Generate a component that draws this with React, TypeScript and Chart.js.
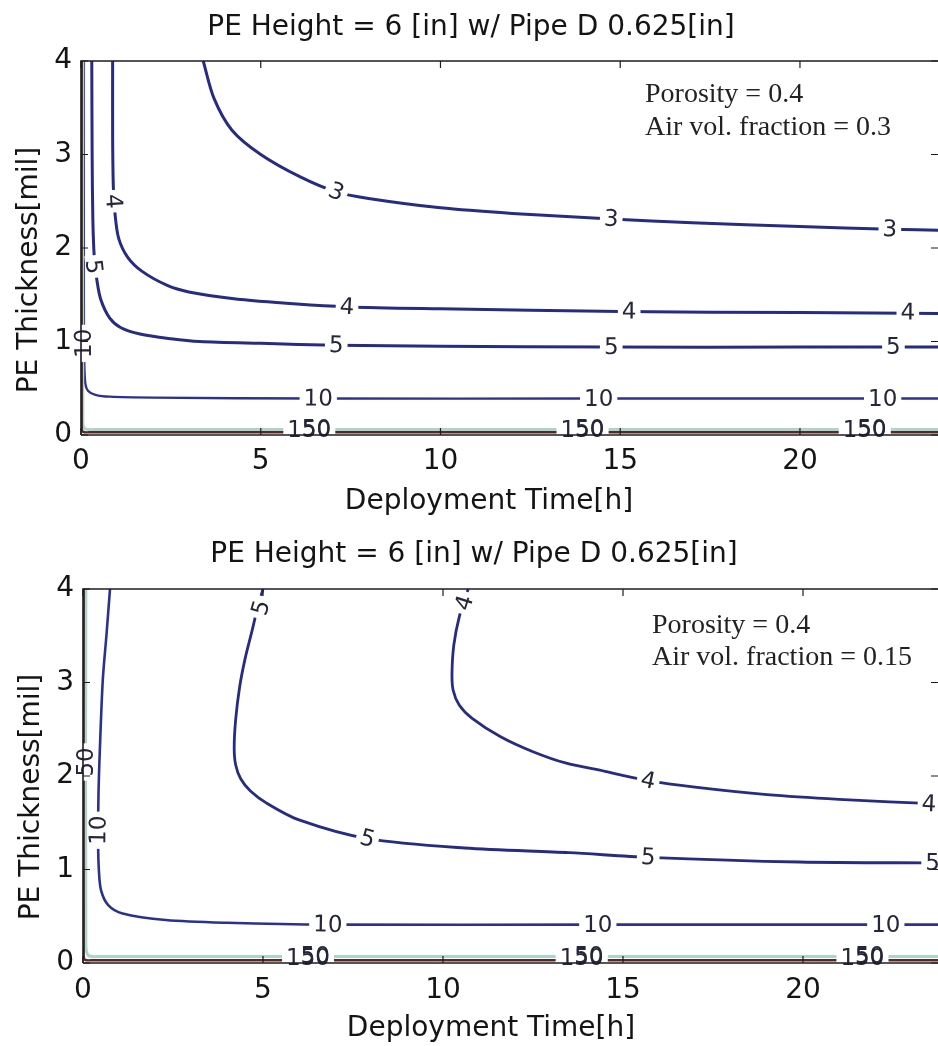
import React, { useEffect, useRef } from "react";
import { Chart, registerables } from "chart.js";
Chart.register(...registerables);

// ---------- shared text / ticks ----------
const X_TICKS = [0, 5, 10, 15, 20];
const Y_TICKS = [0, 1, 2, 3, 4];
const TITLE = "PE Height = 6 [in] w/ Pipe D 0.625[in]";
const X_TITLE = "Deployment Time[h]";
const Y_TITLE = "PE Thickness[mil]";
const TOP_NOTES = ["Porosity = 0.4", "Air vol. fraction = 0.3"];
const BOTTOM_NOTES = ["Porosity = 0.4", "Air vol. fraction = 0.15"];

// ---------- top plot (air vol. fraction 0.3) ----------
const TOP_C3_X = [3.4, 3.7, 4.2, 5.0, 6.1, 7.1, 8.0, 10.0, 12.0, 14.75, 17.0, 20.0, 22.5, 24.0];
const TOP_C3_Y = [4.0, 3.6, 3.26, 3.0, 2.76, 2.6, 2.53, 2.43, 2.37, 2.31, 2.27, 2.23, 2.2, 2.19];
const TOP_C3_LABELS = [[7.1, 2.6], [14.75, 2.31], [22.5, 2.2]];

const TOP_C4_X = [0.88, 0.88, 0.9, 0.95, 1.05, 1.3, 1.7, 2.4, 3.0, 4.2, 6.0, 7.4, 10.0, 15.0, 20.0, 24.0];
const TOP_C4_Y = [4.0, 3.2, 2.65, 2.35, 2.1, 1.9, 1.75, 1.6, 1.53, 1.46, 1.4, 1.37, 1.35, 1.32, 1.31, 1.3];
const TOP_C4_LABELS = [[0.9, 2.5], [7.4, 1.37], [15.25, 1.32], [23.0, 1.31]];

const TOP_C5_X = [0.3, 0.31, 0.33, 0.37, 0.44, 0.55, 0.8, 1.1, 1.64, 2.5, 3.3, 5.0, 7.1, 10.0, 14.75, 20.0, 24.0];
const TOP_C5_Y = [4.0, 3.0, 2.3, 1.9, 1.66, 1.45, 1.25, 1.15, 1.08, 1.03, 1.0, 0.98, 0.96, 0.95, 0.94, 0.94, 0.94];
const TOP_C5_LABELS = [[0.35, 1.8], [7.1, 0.96], [14.75, 0.94], [22.6, 0.94]];

const TOP_C10_X = [0.08, 0.08, 0.09, 0.12, 0.2, 0.4, 0.8, 2.0, 6.6, 14.4, 24.0];
const TOP_C10_Y = [4.0, 1.5, 0.8, 0.55, 0.47, 0.43, 0.41, 0.4, 0.39, 0.39, 0.39];
const TOP_C10_LABELS = [[0.08, 0.98], [6.6, 0.39], [14.4, 0.39], [22.3, 0.39]];

const TOP_C50_X = [0.05, 0.05, 0.1, 0.5, 24.0];
const TOP_C50_Y = [4.0, 0.2, 0.07, 0.06, 0.06];
const TOP_C50_LABELS = [[6.55, 0.06], [14.15, 0.06], [22.0, 0.06]];

const TOP_C150_X = [0.02, 0.02, 0.05, 0.3, 24.0];
const TOP_C150_Y = [4.0, 0.1, 0.035, 0.03, 0.03];
const TOP_C150_LABELS = [[6.35, 0.05], [13.95, 0.05], [21.8, 0.05]];

// ---------- bottom plot (air vol. fraction 0.15) ----------
const BOT_C4_X = [10.7, 10.45, 10.3, 10.25, 10.28, 10.45, 10.8, 11.6, 12.5, 13.4, 14.5, 15.7, 17.0, 19.0, 21.0, 23.8];
const BOT_C4_Y = [4.0, 3.7, 3.4, 3.1, 2.92, 2.76, 2.62, 2.42, 2.26, 2.14, 2.05, 1.95, 1.88, 1.8, 1.75, 1.7];
const BOT_C4_LABELS = [[10.6, 3.85], [15.7, 1.95], [23.5, 1.7]];

const BOT_C5_X = [5.0, 4.85, 4.7, 4.5, 4.35, 4.24, 4.2, 4.24, 4.38, 4.65, 5.1, 6.0, 7.9, 10.6, 13.5, 15.7, 19.9, 23.8];
const BOT_C5_Y = [4.0, 3.8, 3.56, 3.25, 2.95, 2.6, 2.3, 2.12, 1.97, 1.84, 1.71, 1.53, 1.33, 1.23, 1.18, 1.13, 1.08, 1.07];
const BOT_C5_LABELS = [[4.95, 3.8], [7.9, 1.33], [15.7, 1.13], [23.6, 1.07]];

const BOT_C10_X = [0.75, 0.65, 0.55, 0.47, 0.43, 0.42, 0.44, 0.5, 0.7, 1.1, 2.3, 4.0, 6.8, 14.3, 22.3, 23.8];
const BOT_C10_Y = [4.0, 3.5, 3.03, 2.3, 1.8, 1.3, 1.0, 0.78, 0.62, 0.53, 0.46, 0.43, 0.41, 0.41, 0.41, 0.41];
const BOT_C10_LABELS = [[0.43, 1.42], [6.8, 0.41], [14.3, 0.41], [22.3, 0.41]];

const BOT_C50_X = [0.08, 0.08, 0.15, 0.5, 23.8];
const BOT_C50_Y = [4.0, 0.2, 0.08, 0.07, 0.07];
const BOT_C50_LABELS = [[0.08, 2.15], [6.45, 0.07], [14.05, 0.07], [21.85, 0.07]];

const BOT_C150_X = [0.02, 0.02, 0.05, 0.3, 23.8];
const BOT_C150_Y = [4.0, 0.1, 0.035, 0.03, 0.03];
const BOT_C150_LABELS = [[6.25, 0.05], [13.85, 0.05], [21.65, 0.05]];

const LEVEL_COLORS: Record<number, string> = {
  3: "#272b82",
  4: "#272b82",
  5: "#272b82",
  10: "#2c3190",
  50: "#a6d6cc",
  150: "#5a2820",
};

const SANS = "'DejaVu Sans', 'Liberation Sans', sans-serif";
const SERIF = "'Liberation Serif', 'DejaVu Serif', serif";

function contour(level: number, xs: number[], ys: number[], labels: number[][], width: number) {
  return {
    label: String(level),
    data: xs.map((x, i) => ({ x, y: ys[i] })),
    borderColor: LEVEL_COLORS[level],
    borderWidth: width,
    pointRadius: 0,
    tension: 0.3,
    fill: false,
    contourLabels: labels,
  };
}

const contourLabelPlugin = {
  id: "contourLabels",
  afterDatasetsDraw(chart: any) {
    const ctx = chart.ctx;
    const sx = chart.scales.x;
    const sy = chart.scales.y;
    const items: any[] = [];
    chart.data.datasets.forEach((ds: any, i: number) => {
      const labs = ds.contourLabels;
      if (!labs) return;
      const pts = chart.getDatasetMeta(i).data;
      labs.forEach(([lx, ly]: number[]) => {
        const px = sx.getPixelForValue(lx);
        const py = sy.getPixelForValue(ly);
        let bestK = 0;
        let bd = Infinity;
        for (let k = 0; k < pts.length - 1; k++) {
          const a = pts[k];
          const b = pts[k + 1];
          const dx = b.x - a.x;
          const dy = b.y - a.y;
          const l2 = dx * dx + dy * dy || 1;
          let t = ((px - a.x) * dx + (py - a.y) * dy) / l2;
          t = Math.max(0, Math.min(1, t));
          const qx = a.x + t * dx - px;
          const qy = a.y + t * dy - py;
          const d = qx * qx + qy * qy;
          if (d < bd) {
            bd = d;
            bestK = k;
          }
        }
        const a = pts[bestK];
        const b = pts[bestK + 1];
        let ang = Math.atan2(b.y - a.y, b.x - a.x);
        while (ang >= Math.PI / 2 - 0.01) ang -= Math.PI;
        while (ang < -Math.PI / 2 - 0.01) ang += Math.PI;
        items.push({ px, py, ang, text: ds.label });
      });
    });
    ctx.save();
    ctx.font = `23px ${SANS}`;
    ctx.textAlign = "center";
    ctx.textBaseline = "middle";
    items.forEach((it) => {
      const w = ctx.measureText(it.text).width;
      ctx.save();
      ctx.translate(it.px, it.py);
      ctx.rotate(it.ang);
      ctx.fillStyle = "#ffffff";
      ctx.fillRect(-w / 2 - 4, -8, w + 8, 16);
      ctx.restore();
    });
    items.forEach((it) => {
      ctx.save();
      ctx.translate(it.px, it.py);
      ctx.rotate(it.ang);
      ctx.fillStyle = "#26263a";
      ctx.fillText(it.text, 0, 1);
      ctx.restore();
    });
    ctx.restore();
  },
};

const framePlugin = {
  id: "frame",
  afterDraw(chart: any, _args: any, o: any) {
    const ctx = chart.ctx;
    const ca = chart.chartArea;
    const sx = chart.scales.x;
    const sy = chart.scales.y;
    ctx.save();
    ctx.strokeStyle = "#1c1c24";
    ctx.lineWidth = 1.6;
    ctx.beginPath();
    ctx.moveTo(ca.left, ca.bottom);
    ctx.lineTo(ca.left, ca.top);
    ctx.lineTo(ca.right, ca.top);
    ctx.moveTo(ca.left, ca.bottom);
    ctx.lineTo(ca.right, ca.bottom);
    ctx.stroke();
    ctx.lineWidth = 1.2;
    ctx.beginPath();
    X_TICKS.forEach((v) => {
      const x = sx.getPixelForValue(v);
      ctx.moveTo(x, ca.bottom);
      ctx.lineTo(x, ca.bottom - 7);
      ctx.moveTo(x, ca.top);
      ctx.lineTo(x, ca.top + 7);
    });
    Y_TICKS.forEach((v) => {
      const y = sy.getPixelForValue(v);
      ctx.moveTo(ca.left, y);
      ctx.lineTo(ca.left + 7, y);
      ctx.moveTo(ca.right, y);
      ctx.lineTo(ca.right - 7, y);
    });
    ctx.stroke();

    ctx.fillStyle = "#141414";
    ctx.textBaseline = "alphabetic";
    ctx.textAlign = "center";
    ctx.font = `28px ${SANS}`;
    ctx.fillText(TITLE, o.titleX, o.titleY);
    ctx.fillText(X_TITLE, o.xTitleX, o.xTitleY);
    ctx.save();
    ctx.translate(o.yTitleX, o.yTitleY);
    ctx.rotate(-Math.PI / 2);
    ctx.fillText(Y_TITLE, 0, 0);
    ctx.restore();

    ctx.textAlign = "left";
    ctx.font = `28px ${SERIF}`;
    ctx.fillStyle = "#222222";
    o.notes.forEach((t: string, i: number) => {
      ctx.fillText(t, o.notesX, o.notesY + i * o.notesGap);
    });
    ctx.restore();
  },
};

function makeConfig(datasets: any[], xMax: number, padTop: number, left: number, xHeight: number, xPad: number, frame: any) {
  return {
    type: "line",
    data: { datasets },
    plugins: [contourLabelPlugin, framePlugin],
    options: {
      animation: false,
      responsive: false,
      events: [],
      layout: { padding: { top: padTop, left: 0, right: 0, bottom: 0 } },
      plugins: {
        legend: { display: false },
        title: { display: false },
        tooltip: { enabled: false },
        frame,
      },
      scales: {
        x: {
          type: "linear",
          min: 0,
          max: xMax,
          grid: { display: false, drawTicks: false },
          border: { display: false },
          afterBuildTicks: (s: any) => {
            s.ticks = X_TICKS.map((v) => ({ value: v }));
          },
          afterFit: (s: any) => {
            s.height = xHeight;
          },
          ticks: {
            font: { family: SANS, size: 28 },
            color: "#141414",
            padding: xPad,
            maxRotation: 0,
            autoSkip: false,
          },
        },
        y: {
          type: "linear",
          min: 0,
          max: 4,
          grid: { display: false, drawTicks: false },
          border: { display: false },
          afterBuildTicks: (s: any) => {
            s.ticks = Y_TICKS.map((v) => ({ value: v }));
          },
          afterFit: (s: any) => {
            s.width = left;
          },
          ticks: {
            font: { family: SANS, size: 28 },
            color: "#141414",
            padding: 9,
          },
        },
      },
    },
  };
}

function ChartCanvas({ config }: { config: any }) {
  const ref = useRef<HTMLCanvasElement | null>(null);
  useEffect(() => {
    if (!ref.current) return;
    const chart = new Chart(ref.current, config);
    return () => chart.destroy();
  }, [config]);
  return <canvas ref={ref} width={938} height={523} style={{ display: "block", width: 938, height: 523 }} />;
}

const topDatasets = [
  contour(150, TOP_C150_X, TOP_C150_Y, TOP_C150_LABELS, 2.5),
  contour(50, TOP_C50_X, TOP_C50_Y, TOP_C50_LABELS, 3),
  contour(10, TOP_C10_X, TOP_C10_Y, TOP_C10_LABELS, 2.4),
  contour(5, TOP_C5_X, TOP_C5_Y, TOP_C5_LABELS, 3),
  contour(4, TOP_C4_X, TOP_C4_Y, TOP_C4_LABELS, 3),
  contour(3, TOP_C3_X, TOP_C3_Y, TOP_C3_LABELS, 3),
];

const bottomDatasets = [
  contour(150, BOT_C150_X, BOT_C150_Y, BOT_C150_LABELS, 2.5),
  contour(50, BOT_C50_X, BOT_C50_Y, BOT_C50_LABELS, 3),
  contour(10, BOT_C10_X, BOT_C10_Y, BOT_C10_LABELS, 2.6),
  contour(5, BOT_C5_X, BOT_C5_Y, BOT_C5_LABELS, 2.8),
  contour(4, BOT_C4_X, BOT_C4_Y, BOT_C4_LABELS, 2.8),
];

const topConfig = makeConfig(topDatasets, 23.84, 61, 81, 88, 10, {
  titleX: 471, titleY: 35,
  xTitleX: 489, xTitleY: 509,
  yTitleX: 37, yTitleY: 270,
  notes: TOP_NOTES, notesX: 645, notesY: 102, notesGap: 33,
});

const bottomConfig = makeConfig(bottomDatasets, 23.75, 66, 83, 83, 11, {
  titleX: 474, titleY: 39,
  xTitleX: 491, xTitleY: 513,
  yTitleX: 39, yTitleY: 274,
  notes: BOTTOM_NOTES, notesX: 652, notesY: 110, notesGap: 32,
});

export default function App() {
  return (
    <div style={{ position: "absolute", left: 0, top: 0, width: 938, height: 1046, background: "#ffffff", overflow: "hidden" }}>
      <ChartCanvas config={topConfig} />
      <ChartCanvas config={bottomConfig} />
    </div>
  );
}
